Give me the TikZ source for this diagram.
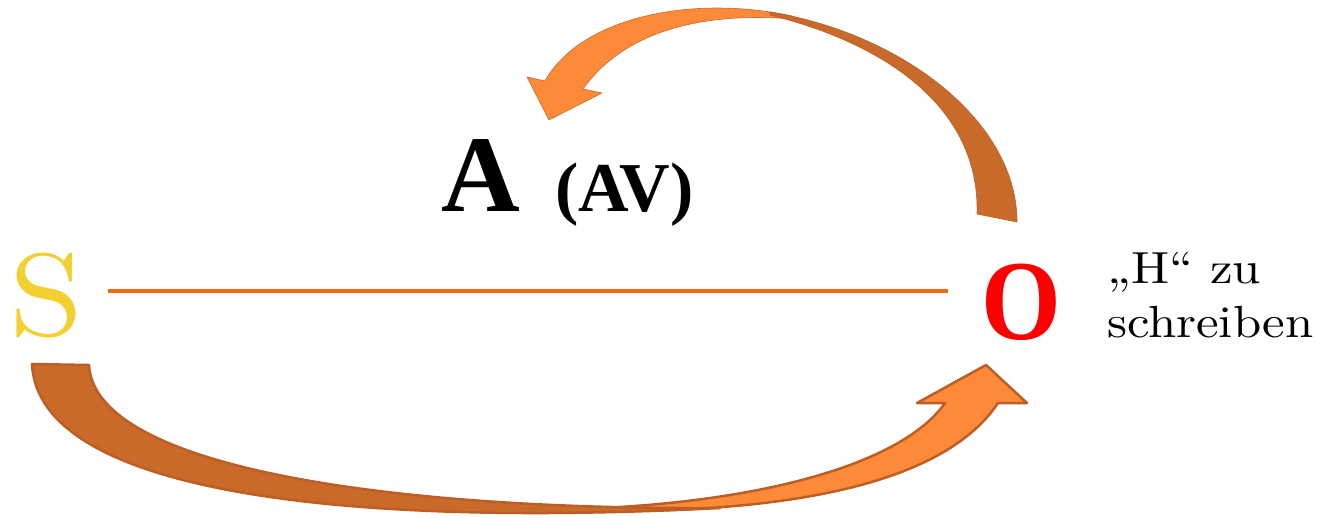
\documentclass[tikz,border=0pt]{standalone}
\usepackage{fontspec}
\setmainfont{Latin Modern Roman}
\newfontfamily\timesf{Liberation Serif}
\newfontfamily\lmten[FakeStretch=1.14]{lmroman10-regular.otf}
\newfontfamily\lmtext[FakeStretch=1.13]{lmroman10-regular.otf}
\definecolor{darkarr}{HTML}{C96A2B}
\definecolor{lightarr}{HTML}{FD8A38}
\definecolor{arredge}{HTML}{BD5F24}
\definecolor{syellow}{HTML}{F4CF30}
\definecolor{lineor}{HTML}{F26B0F}
\tikzset{
  letter/.style={inner sep=0pt, outer sep=0pt},
  bandback/.style={fill=darkarr, draw=arredge, line join=round},
  bandfront/.style={fill=lightarr, draw=arredge, line join=round},
}
\begin{document}
\begin{tikzpicture}[x=1pt,y=-1pt]
\useasboundingbox (0,0) rectangle (1335,518);
% letters
\node[letter, text=syellow, font=\lmten\fontsize{117}{117}\selectfont] (S) at (47,296) {S};
\node[letter, text=red, font=\timesf\bfseries\addfontfeature{FakeStretch=0.9}\fontsize{114}{114}\selectfont] (O) at (1021,302) {O};
\node[letter, anchor=base west, font=\timesf\bfseries\fontsize{109}{109}\selectfont] (A) at (441,212) {A};
\node[letter, anchor=base west, font=\timesf\bfseries\fontsize{70}{70}\selectfont] (AV) at (555,212) {(AV)};
\node[letter, anchor=north west, align=left, font=\lmtext\fontsize{45}{54}\selectfont] (H) at (1107,252) {„H“ zu\\schreiben};
% line S -- O
\draw[lineor, line width=4.5pt, shorten <=24pt, shorten >=33pt] (S.east |- 0,291) -- (O.west |- 0,291);
% bottom arrow S -> O
\draw[bandfront, line width=2.5pt] (620,507) .. controls (780,497) and (905,460) .. (945,403)
  -- (917,403) -- (986,365) -- (1027,403) -- (998,403)
  .. controls (950,475) and (820,510) .. (620,511) -- cycle;
\draw[bandback, line width=2.5pt] (32,364) .. controls (38,490) and (330,528) .. (720,508)
  .. controls (400,510) and (95,470) .. (89,365) -- cycle;
% top arrow O -> A
\draw[bandfront, draw=darkarr, line width=0.6pt] (792,16) .. controls (690,-6) and (580,18) .. (545,81)
  -- (527,77) -- (549,120) -- (602,93) -- (583,89)
  .. controls (630,23) and (720,13) .. (792,19) -- cycle;
\draw[bandback, line width=0.6pt] (770,12) .. controls (900,33) and (1017,120) .. (1017,222)
  -- (977,214) .. controls (980,110) and (890,45) .. (770,15) -- cycle;
\end{tikzpicture}
\end{document}
